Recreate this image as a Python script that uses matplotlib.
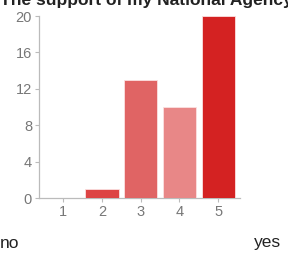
import matplotlib
matplotlib.use("Agg")
import matplotlib.pyplot as plt

categories = [1, 2, 3, 4, 5]
counts = [0, 1, 13, 10, 20]
colors = ["#f0a0a0", "#dd4444", "#e06464", "#e88787", "#d42222"]
yticks = [0, 4, 8, 12, 16, 20]

plt.rcParams["font.family"] = ["Liberation Sans", "DejaVu Sans"]

fig = plt.figure(figsize=(2.88, 2.56), dpi=100)
ax = fig.add_axes([39 / 288, 1 - 198 / 256, 201 / 288, 182 / 256])

ax.bar(categories, counts, width=0.86, color=colors,
       edgecolor="#fbe0e0", linewidth=0.6, zorder=3)

ax.set_xlim(0.38, 5.56)
ax.set_ylim(0, 20)
ax.set_xticks(categories)
ax.set_yticks(yticks)
for s in ["top", "right"]:
    ax.spines[s].set_visible(False)
for s in ["left", "bottom"]:
    ax.spines[s].set_color("#bbbbbb")
    ax.spines[s].set_linewidth(0.9)
ax.tick_params(colors="#bbbbbb", labelcolor="#777777", labelsize=10.5,
               length=3, width=0.8, pad=2)

fig.text(0.0, 1 - 5 / 256, "The support of my National Agency",
         fontsize=12.5, fontweight="bold", color="#222222",
         ha="left", va="baseline")
fig.text(0.0, 1 - 243 / 256, "no", fontsize=12.5, color="#222222",
         ha="left", va="center")
fig.text(254 / 288, 1 - 243 / 256, "yes", fontsize=12.5, color="#222222",
         ha="left", va="center")

fig.savefig("out.png", dpi=100)
